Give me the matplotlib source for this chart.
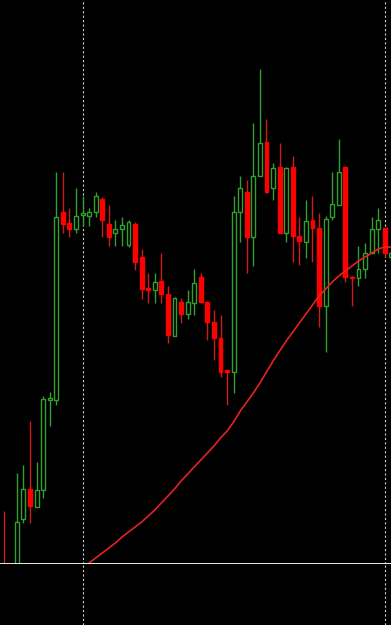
import matplotlib
matplotlib.use("Agg")
import matplotlib.pyplot as plt
import numpy as np

# bar data (price units)
opens  = [-6, -40, -26, 45, 75, 57, 74, 164, 164, 352,
          341, 335, 349, 348, 352, 365, 340, 331, 335, 319,
          340, 307, 276, 274, 283, 270, 228, 262, 250, 261,
          287, 262, 242, 226, 194, 192, 352, 372, 327, 388,
          422, 376, 397, 331, 397, 328, 322, 344, 336, 258,
          347, 359, 397, 287, 286, 295, 311, 335, 336, 307]
highs  = [53, -8, 91, 99, 143, 102, 168, 172, 392, 392,
          356, 376, 368, 356, 372, 367, 359, 344, 347, 344,
          342, 315, 291, 291, 311, 278, 267, 266, 274, 295,
          291, 263, 254, 249, 194, 368, 388, 384, 441, 495,
          445, 401, 421, 397, 408, 347, 364, 368, 351, 348,
          392, 425, 397, 288, 318, 321, 347, 356, 336, 314]
lows   = [-36, -45, -30, 41, 41, 57, 66, 138, 159, 331,
          327, 331, 338, 338, 347, 327, 318, 318, 318, 317,
          294, 265, 261, 261, 261, 221, 228, 241, 245, 249,
          261, 224, 204, 187, 159, 171, 322, 291, 298, 388,
          371, 364, 331, 322, 302, 299, 306, 302, 237, 212,
          344, 359, 282, 258, 278, 286, 311, 311, 307, 304]
closes = [-26, -15, 42, 75, 58, 74, 165, 166, 347, 340,
          335, 348, 351, 352, 368, 344, 327, 335, 339, 342,
          302, 275, 274, 282, 270, 229, 266, 250, 262, 281,
          262, 242, 226, 192, 192, 352, 376, 327, 388, 421,
          372, 396, 331, 396, 328, 323, 343, 336, 258, 345,
          360, 392, 287, 286, 295, 311, 335, 344, 311, 311]

# moving average, starting at bar 12
ma_start = 12
ma = [-4, 1, 6, 11, 16, 21, 27, 32, 37, 42, 48, 54, 61, 68, 75, 83,
      90, 97, 104, 111, 118, 126, 133, 142, 153, 162, 171, 181, 192, 203,
      213, 223, 232, 241, 250, 259, 268, 275, 282, 288, 293, 298, 303,
      307, 311, 315, 317, 317]

# period separators (bar index)
separators = [12, 58]

green = "#30a030"
red_body = "#ff0000"
red_wick = "#cc1c1c"

fig = plt.figure(figsize=(3.91, 6.25), dpi=100, facecolor="black")
ax = fig.add_axes([0, 61 / 625, 1, 564 / 625])
ax2 = fig.add_axes([0, 0, 1, 61 / 625])
for a in (ax, ax2):
    a.set_facecolor("black")
    a.set_xlim(-0.563, 58.95)
    a.set_xticks([])
    a.set_yticks([])
    for s in a.spines.values():
        s.set_visible(False)
ax.set_ylim(0, 564)
ax2.set_ylim(0, 1)
ax.spines["bottom"].set_visible(True)
ax.spines["bottom"].set_color("white")
ax.spines["bottom"].set_linewidth(2.0)
ax.spines["bottom"].set_zorder(10)

o = np.array(opens, dtype=float)
h = np.array(highs, dtype=float)
l = np.array(lows, dtype=float)
c = np.array(closes, dtype=float)
x = np.arange(len(o))
up = c >= o

for a in (ax, ax2):
    for s in separators:
        a.axvline(s, color="#d0d0d0", lw=0.8, ls=(0, (2, 2)), zorder=1)

# wicks
ax.vlines(x[up], l[up], h[up], color=green, lw=1.0, zorder=2)
ax.vlines(x[~up], l[~up], h[~up], color=red_wick, lw=1.0, zorder=2)

# bodies
w = 0.6
body_lo = np.minimum(o, c)
body_h = np.maximum(np.abs(c - o), 1.0)
ax.bar(x[up], body_h[up], bottom=body_lo[up], width=w,
       facecolor="black", edgecolor=green, linewidth=1.0, zorder=3)
ax.bar(x[~up], body_h[~up], bottom=body_lo[~up], width=w,
       facecolor=red_body, edgecolor=red_body, linewidth=1.0, zorder=3)

# moving average
ax.plot(np.arange(ma_start, ma_start + len(ma)), ma, color="#e52222",
        lw=1.2, zorder=4)

fig.savefig("out.png", dpi=100, facecolor="black")
